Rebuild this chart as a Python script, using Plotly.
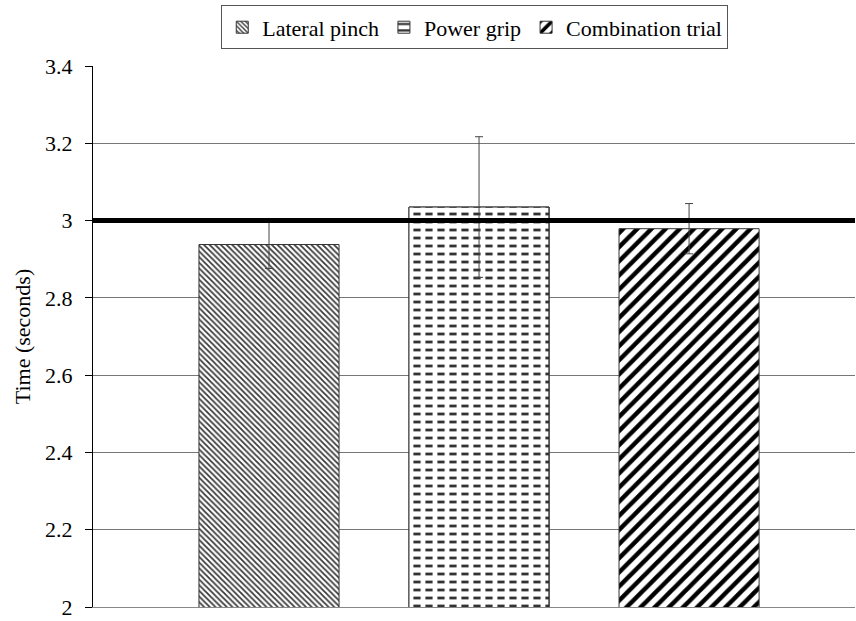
import plotly.graph_objects as go

# Mean completion time per grip condition, with standard deviation
conditions = ["Lateral pinch", "Power grip", "Combination trial"]
mean_time = [2.938, 3.035, 2.979]
sd_time = [0.062, 0.182, 0.065]
target_time = 3.0

y_ticks = [2, 2.2, 2.4, 2.6, 2.8, 3, 3.2, 3.4]
y_tick_text = ["2", "2.2", "2.4", "2.6", "2.8", "3", "3.2", "3.4"]

patterns = [
    dict(shape="\\", fgcolor="#3a3a3a", bgcolor="white", size=4,
         solidity=0.45, fgopacity=1),
    dict(shape="-", fgcolor="#333333", bgcolor="white", size=8,
         solidity=0.35, fgopacity=1),
    dict(shape="/", fgcolor="black", bgcolor="white", size=10,
         solidity=0.45, fgopacity=1),
]

serif = "Liberation Serif"
FS = 22

fig = go.Figure()
for i, name in enumerate(conditions):
    fig.add_trace(go.Bar(
        x=[i], y=[mean_time[i]], name=name,
        width=0.667,
        marker=dict(color="white", pattern=patterns[i],
                    line=dict(color="#333333", width=1)),
        error_y=dict(type="data", array=[sd_time[i]], visible=True,
                     color="#444444", thickness=1, width=4)
        if i != 1 else None,
    ))

# Break the power-grip stripes into dashes with white vertical gaps
fig.add_trace(go.Bar(
    x=[1], y=[mean_time[1]], name=conditions[1], showlegend=False,
    width=0.667,
    marker=dict(color="rgba(0,0,0,0)",
                pattern=dict(shape="|", fgcolor="white", size=12,
                             solidity=0.4, fillmode="overlay", fgopacity=1),
                line=dict(color="#333333", width=1)),
    error_y=dict(type="data", array=[sd_time[1]], visible=True,
                 color="#444444", thickness=1, width=4),
))

# Reference line at the target time
fig.add_shape(type="line", xref="paper", x0=0, x1=1, yref="y",
              y0=target_time, y1=target_time,
              line=dict(color="black", width=5), layer="above")

fig.update_layout(
    width=856, height=621,
    margin=dict(l=93, r=1, t=66, b=12),
    paper_bgcolor="white", plot_bgcolor="white",
    font=dict(family=serif, size=FS, color="black"),
    barmode="overlay",
    showlegend=True,
    legend=dict(orientation="h", x=0.501, xanchor="center",
                y=1.112, yanchor="top",
                bordercolor="#555555", borderwidth=1,
                font=dict(family=serif, size=FS),
                traceorder="normal", itemwidth=30),
    xaxis=dict(range=[-0.838, 2.79], showticklabels=False, ticks="",
               showgrid=False, zeroline=False,
               showline=True, linecolor="#888888", linewidth=1),
    yaxis=dict(range=[2, 3.4], tickvals=y_ticks, ticktext=y_tick_text,
               tickfont=dict(family=serif, size=FS, color="black"),
               ticks="outside", ticklen=7, tickcolor="black",
               ticklabelstandoff=8,
               ticklabeloverflow="allow",
               showgrid=True, gridcolor="#777777", gridwidth=1,
               zeroline=False, showline=True, linecolor="black", linewidth=1,
               title=dict(text="Time (seconds)", standoff=8,
                          font=dict(family=serif, size=FS))),
)

fig.write_html("out.html")
